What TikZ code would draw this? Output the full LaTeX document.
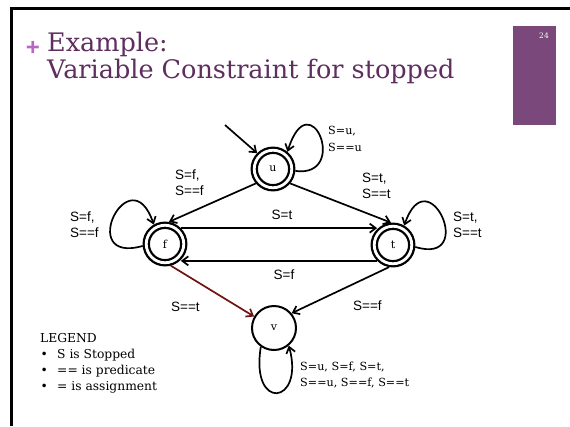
\documentclass[tikz,border=0pt]{standalone}
\usepackage{fontspec}
\setmainfont{DejaVu Serif}
\newfontfamily\labsans{Liberation Sans}
\usetikzlibrary{arrows.meta}
\definecolor{titlepurple}{RGB}{94,46,94}
\definecolor{boxpurple}{RGB}{122,72,122}
\definecolor{pluspurple}{RGB}{184,104,196}
\definecolor{edgered}{RGB}{110,18,18}
\begin{document}
\begin{tikzpicture}[x=1pt,y=-1pt,
  >={Straight Barb[length=6pt,width=9pt]},
  state/.style={circle, draw, double, line width=2.3pt, double distance=2.8pt,
    minimum size=37.5pt, inner sep=0pt, outer sep=3.7pt,
    font=\fontsize{11}{13}\selectfont},
  vstate/.style={circle, draw, line width=2pt, minimum size=44pt, inner sep=0pt,
    font=\fontsize{11}{13}\selectfont},
  edge/.style={->, line width=1.7pt},
  lsans/.style={font=\labsans\fontsize{13.5}{16}\selectfont, anchor=base west,
    inner sep=0pt, align=left},
  lserif/.style={font=\fontsize{11.2}{16.5}\selectfont, anchor=base west,
    inner sep=0pt, align=left},
  legtext/.style={font=\fontsize{12.3}{16}\selectfont, anchor=base west, inner sep=0pt},
  titletext/.style={font=\fontsize{25.5}{27}\selectfont, text=titlepurple,
    anchor=base west, inner sep=0pt}]
\useasboundingbox (0,0) rectangle (570,426);
% frame
\draw[line width=2.8pt, line join=miter] (11.4,426) -- (11.4,8.8) -- (570,8.8);
% title
\node[font=\labsans\bfseries\fontsize{24}{24}\selectfont, text=pluspurple, inner sep=0pt]
  (plus) at (33,48) {+};
\node[titletext] (title1) at (47,51) {Example:};
\node[titletext] (title2) at (47,78) {Variable Constraint for stopped};
\fill[boxpurple] (513,26) rectangle (556,125);
\node[text=white, font=\fontsize{7.5}{9}\selectfont, inner sep=0pt] (pgnum) at (544,36) {24};
% states
\node[state] (u) at (273,169) {u};
\node[state] (f) at (165,244) {f};
\node[state] (t) at (393,245) {t};
\node[vstate] (v) at (274,328) {v};
\coordinate (init) at (225,125);
% edges
\draw[edge] (init) -- (u.135);
\draw[edge] (u.-5) .. controls (350,178) and (310,80) .. (u.50);
\draw[edge] (f.185) .. controls (75,265) and (130,155) .. (f.120);
\draw[edge] (t.-5) .. controls (478,266) and (428,156) .. (t.60);
\draw[edge] (v.235) .. controls (250,412) and (305,405) .. (v.-50);
\draw[edge] (u.220) -- (f.80);
\draw[edge] (u.-40) -- (t.95);
\draw[edge] (f.45) -- (f.45 -| t.135);
\draw[edge] (t.-135) -- (t.-135 -| f.-45);
\draw[edge, draw=edgered] (f.-75) -- (v.150);
\draw[edge] (t.-100) -- (v.40);
% labels (base anchor = last line)
\node[lserif] (lu) at (328,151) {S=u,\\S==u};
\node[lsans] (luf) at (175,195) {S=f,\\S==f};
\node[lsans] (lut) at (362,198) {S=t,\\S==t};
\node[lsans] (lff) at (70,237) {S=f,\\S==f};
\node[lsans] (ltt) at (453,237) {S=t,\\S==t};
\node[lsans, anchor=base] (lft) at (282,219) {S=t};
\node[lsans, anchor=base] (ltf) at (284,279) {S=f};
\node[lsans] (lfv) at (171,311) {S==t};
\node[lsans] (ltv) at (353,310) {S==f};
\node[lserif] (lv) at (300,386.5) {S=u, S=f, S=t,\\S==u, S==f, S==t};
% legend
\node[legtext] (leg0) at (40,342) {LEGEND};
\node[legtext] (leg1) at (40.5,358) {\makebox[16.5pt][l]{•}S is Stopped};
\node[legtext] (leg2) at (40.5,374) {\makebox[16.5pt][l]{•}== is predicate};
\node[legtext] (leg3) at (40.5,390) {\makebox[16.5pt][l]{•}= is assignment};
\end{tikzpicture}
\end{document}
